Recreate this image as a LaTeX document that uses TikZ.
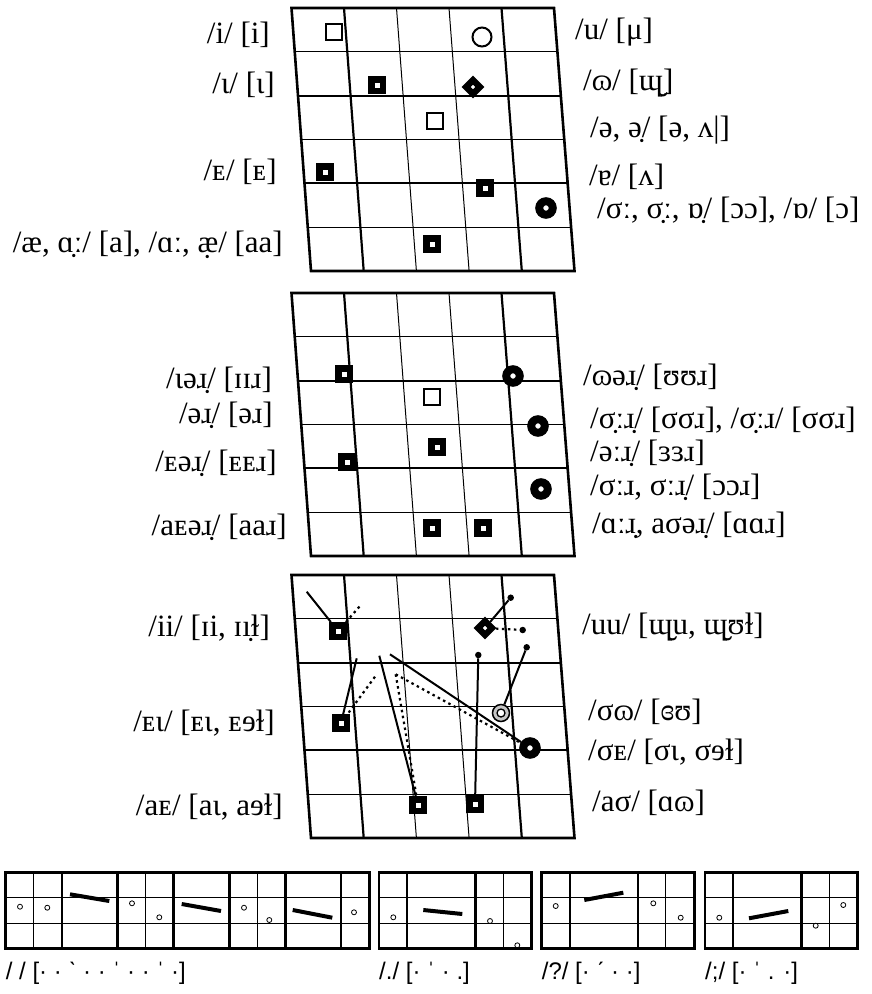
\documentclass[tikz,border=0pt]{standalone}
\usepackage{fontspec}
\setmainfont{Liberation Serif}
\newfontfamily\stripfont{Liberation Sans}
\usepackage{tikz}
\usetikzlibrary{shapes.geometric, backgrounds}

\begin{document}
\begin{tikzpicture}[
    x=1pt, y=-1pt,
    frame/.style={line width=2.6pt},
    thickline/.style={line width=2.2pt},
    thinline/.style={line width=1pt},
    opensq/.style={rectangle, draw, line width=2.3pt, minimum size=16pt, inner sep=0pt},
    thicksq/.style={rectangle, draw, line width=6.5pt, minimum size=11.5pt, inner sep=0pt, fill=white},
    opencirc/.style={circle, draw, line width=2pt, minimum size=19pt, inner sep=0pt},
    bullseye/.style={circle, draw, line width=8pt, minimum size=13.5pt, inner sep=0pt, fill=white},
    diamondmark/.style={diamond, draw, line width=6.3pt, minimum size=16.5pt, inner sep=0pt, fill=white},
    graycirc/.style={circle, draw, line width=1.5pt, minimum size=17pt, inner sep=0pt, fill=gray!45,
        path picture={\draw[line width=1.3pt, fill=white] (path picture bounding box.center) circle[radius=4pt];}},
    enddot/.style={circle, fill, minimum size=6.5pt, inner sep=0pt},
    glide/.style={line width=2pt},
    glidedot/.style={line width=2.2pt, dash pattern=on 2.5pt off 3.5pt},
    llab/.style={anchor=east, inner sep=0pt, font=\fontsize{31}{31}\selectfont},
    rlab/.style={anchor=west, inner sep=0pt, font=\fontsize{31}{31}\selectfont},
    tone/.style={circle, draw, line width=0.8pt, minimum size=5pt, inner sep=0pt},
    tonebar/.style={line width=4pt},
    striplab/.style={anchor=west, inner sep=0pt, font=\stripfont\fontsize{24}{24}\selectfont}
]
\useasboundingbox (0,0) rectangle (871,994);

% === Three vowel charts ===
\foreach \yo in {8,293,575} {
    \foreach \k/\w in {1/thickline,2/thinline,3/thinline,4/thickline}
        \draw[\w] ({291.5+52.5*\k},\yo) -- ({311+52.7*\k},\yo+263);
    \foreach \k/\w in {1/thinline,2/thickline,3/thinline,4/thickline,5/thinline}
        \draw[\w] ({291.5+3.25*\k},{\yo+43.833*\k}) -- ({554+3.417*\k},{\yo+43.833*\k});
    \draw[frame] (291.5,\yo) -- (554,\yo) -- (574.5,\yo+263) -- (311,\yo+263) -- cycle;
}

% === Top chart: monophthongs ===
\node[opensq] (ti) at (334,32) {};
\node[opencirc] (tu) at (482,37) {};
\node[thicksq] (tiota) at (377,85) {};
\node[diamondmark] (tomega) at (473,87) {};
\node[opensq] (tschwa) at (435,121) {};
\node[thicksq] (te) at (325,172) {};
\node[thicksq] (tturna) at (485,188) {};
\node[bullseye] (tsigma) at (546,208) {};
\node[thicksq] (tae) at (432,244) {};

\node[llab] (lbi) at (270,35) {/i/ [i]};
\node[llab] (lbiota) at (275,85) {/ɩ/ [ɩ]};
\node[llab] (lbe) at (277,172) {/ᴇ/ [ᴇ]};
\node[llab] (lbae) at (283,245) {/æ, ɑ̣ː/ [a], /ɑː, æ̣/ [aa]};
\node[rlab] (lbu) at (575,32) {/u/ [μ]};
\node[rlab] (lbomega) at (583,83) {/ɷ/ [ɰ̮]};
\node[rlab] (lbschwa) at (590,130) {/ə, ə̣/ [ə, ʌ|]};
\node[rlab] (lbturna) at (589,177) {/ɐ/ [ʌ]};
\node[rlab] (lbsigma) at (597,210) {/σː, σ̣ː, ɒ̣/ [ɔɔ], /ɒ/ [ɔ]};

% === Middle chart: r-coloured vowels ===
\node[thicksq] (miota) at (344,374) {};
\node[bullseye] (momega) at (513,376) {};
\node[opensq] (mschwa) at (432,397) {};
\node[bullseye] (msigma) at (538,426) {};
\node[thicksq] (mlong) at (437,447) {};
\node[thicksq] (me) at (347,462) {};
\node[bullseye] (msigmab) at (541,489) {};
\node[thicksq] (mae) at (432,528) {};
\node[thicksq] (maa) at (483,528) {};

\node[llab] (lbmiota) at (272,380) {/ɩəɹ̣/ [ɪɪɹ]};
\node[llab] (lbmschwa) at (273,415) {/əɹ̣/ [əɹ]};
\node[llab] (lbme) at (277,463) {/ᴇəɹ̣/ [ᴇᴇɹ]};
\node[llab] (lbmae) at (287,527) {/aᴇəɹ̣/ [aaɹ]};
\node[rlab] (lbmomega) at (583,377) {/ɷəɹ̣/ [ʊʊɹ]};
\node[rlab] (lbmsigma) at (590,420) {/σ̣ːɹ̣/ [σσɹ], /σ̣ːɹ/ [σσɹ]};
\node[rlab] (lbmlong) at (590,453) {/əːɹ̣/ [ɜɜɹ]};
\node[rlab] (lbmsigmab) at (590,487) {/σːɹ, σːɹ̣/ [ɔɔɹ]};
\node[rlab] (lbmaa) at (592,525) {/ɑːɹ̣, aσəɹ̣/ [ɑɑɹ]};

% === Bottom chart: diphthongs ===
\node[thicksq] (bii) at (338,631) {};
\node[diamondmark] (buu) at (485,628) {};
\node[thicksq] (bei) at (341,723) {};
\node[graycirc] (bso) at (501,713) {};
\node[bullseye] (bse) at (530,748) {};
\node[thicksq] (bae) at (418,805) {};
\node[thicksq] (bas) at (475,804) {};

\node[enddot] (dua) at (510.7,597.7) {};
\node[enddot] (dub) at (522.7,630) {};
\node[enddot] (dso) at (526.7,647.3) {};
\node[enddot] (das) at (478.3,655) {};
\coordinate (cia) at (306.7,591.7);
\coordinate (cib) at (360,606);
\coordinate (cea) at (356.7,658.3);
\coordinate (ceb) at (375,676.7);
\coordinate (caa) at (379.3,655.7);
\coordinate (cab) at (395.7,674.3);
\coordinate (csa) at (390,654.3);

\begin{scope}[on background layer]
\draw[glide] (cia) -- (bii);
\draw[glidedot] (bii) -- (cib);
\draw[glide] (buu) -- (dua);
\draw[glidedot] (buu) -- (dub);
\draw[glide] (dso) -- (bso);
\draw[glide] (das) -- (bas);
\draw[glide] (cea) -- (bei);
\draw[glidedot] (ceb) -- (bei);
\draw[glide] (caa) -- (bae);
\draw[glidedot] (cab) -- (bae);
\draw[glidedot] (cab) -- (bse);
\draw[glide] (csa) -- (bse);
\end{scope}

\node[llab] (lbbii) at (270,628) {/ii/ [ɪi, ɪı̣ɫ]};
\node[llab] (lbbei) at (275,723) {/ᴇɩ/ [ᴇɩ, ᴇɘɫ]};
\node[llab] (lbbae) at (283,807) {/aᴇ/ [aɩ, aɘɫ]};
\node[rlab] (lbbuu) at (582,627) {/uu/ [ɰ̮u, ɰ̮ʊɫ]};
\node[rlab] (lbbso) at (588,712) {/σɷ/ [ɞʊ]};
\node[rlab] (lbbse) at (588,752) {/σᴇ/ [σɩ, σɘɫ]};
\node[rlab] (lbbas) at (592,803) {/aσ/ [ɑɷ]};

% === Tone strips ===
\foreach \yy in {897.9,923.1} \draw[thinline] (5.7,\yy) -- (369.3,\yy);
\foreach \u/\w in {1/thinline,2/thickline,4/thickline,5/thinline,6/thickline,8/thickline,9/thinline,10/thickline,12/thickline}
    \draw[\w] ({5.7+27.97*\u},872.7) -- ({5.7+27.97*\u},948.3);
\draw[frame] (5.7,872.7) rectangle (369.3,948.3);
\foreach \xo in {379,541.7,705} {
    \foreach \yy in {897.9,923.1} \draw[thinline] (\xo,\yy) -- ({\xo+152.5},\yy);
    \foreach \dx/\w in {28.3/thickline,96.5/thickline,124.2/thinline}
        \draw[\w] ({\xo+\dx},872.7) -- ({\xo+\dx},948.3);
    \draw[frame] (\xo,872.7) rectangle ({\xo+152.5},948.3);
}

% tones, strip 1
\node[tone] (sa1) at (20,906.7) {};
\node[tone] (sa2) at (47.3,907.7) {};
\node[tone] (sa3) at (132,903.3) {};
\node[tone] (sa4) at (159.3,917.3) {};
\node[tone] (sa5) at (244,907.7) {};
\node[tone] (sa6) at (269.3,920) {};
\node[tone] (sa7) at (354,912.3) {};
\draw[tonebar] (70,894.3) -- (109.3,901);
\draw[tonebar] (181.7,904) -- (221,911);
\draw[tonebar] (292.7,910) -- (332.3,917.7);

% tones, strips 2 to 4
\node[tone] (sb1) at (393.3,917.3) {};
\node[tone] (sb2) at (490,921) {};
\node[tone] (sb3) at (517.3,945.3) {};
\draw[tonebar] (423.3,910) -- (462.3,914);
\node[tone] (sc1) at (555.7,906) {};
\node[tone] (sc2) at (653.3,903.3) {};
\node[tone] (sc3) at (680.7,917.7) {};
\draw[tonebar] (584.3,900) -- (623.3,892.7);
\node[tone] (sd1) at (719.3,917.7) {};
\node[tone] (sd2) at (815.7,925.7) {};
\node[tone] (sd3) at (843.3,905) {};
\draw[tonebar] (749,918.3) -- (788.3,911);

\node[striplab] (stripa) at (5.7,973) {/ / [· · ˋ · · ˈ · · ˈ ·]};
\node[striplab] (stripb) at (379,973) {/./ [· ˈ · .]};
\node[striplab] (stripc) at (541.7,973) {/?/ [· ˊ · ·]};
\node[striplab] (stripd) at (705,973) {/;/ [· ˈ . ·]};

\end{tikzpicture}
\end{document}
